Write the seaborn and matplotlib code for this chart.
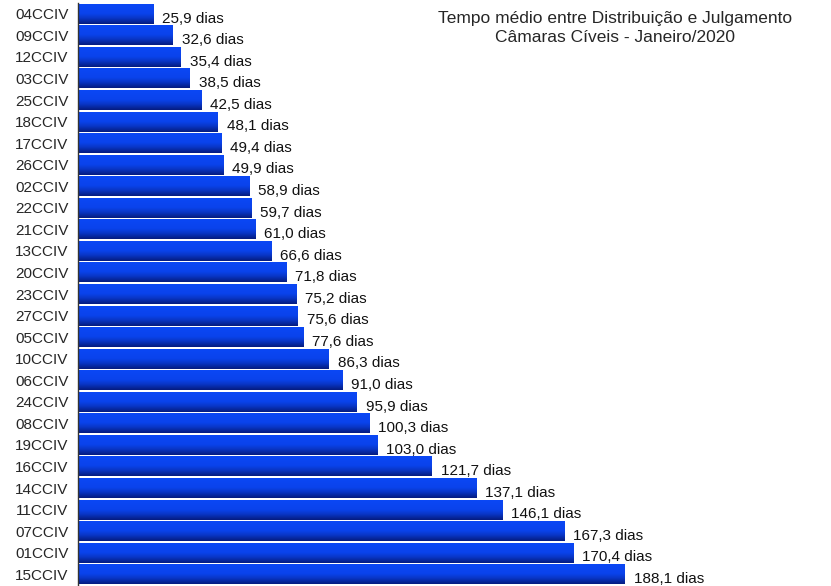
import numpy as np
import pandas as pd
import matplotlib
matplotlib.use("Agg")
import matplotlib.pyplot as plt
from matplotlib.colors import LinearSegmentedColormap
import seaborn as sns

camaras = ["04CCIV", "09CCIV", "12CCIV", "03CCIV", "25CCIV", "18CCIV", "17CCIV",
           "26CCIV", "02CCIV", "22CCIV", "21CCIV", "13CCIV", "20CCIV", "23CCIV",
           "27CCIV", "05CCIV", "10CCIV", "06CCIV", "24CCIV", "08CCIV", "19CCIV",
           "16CCIV", "14CCIV", "11CCIV", "07CCIV", "01CCIV", "15CCIV"]
dias = [25.9, 32.6, 35.4, 38.5, 42.5, 48.1, 49.4, 49.9, 58.9, 59.7, 61.0,
        66.6, 71.8, 75.2, 75.6, 77.6, 86.3, 91.0, 95.9, 100.3, 103.0, 121.7,
        137.1, 146.1, 167.3, 170.4, 188.1]

df = pd.DataFrame({"camara": camaras, "dias": dias})

sns.set_style("white")
plt.rcParams["font.family"] = ["Liberation Sans", "DejaVu Sans"]

fig = plt.figure(figsize=(8.31, 5.86), dpi=100)
ax = fig.add_axes([78 / 831, 1 / 586, 753 / 831, 582 / 586])

sns.barplot(data=df, x="dias", y="camara", color="#0b44f0", width=0.93,
            saturation=1, ax=ax)

# vertical gradient inside each bar (bright on top, dark at the bottom)
cmap = LinearSegmentedColormap.from_list(
    "azul", [(0, "#0b48f6"), (0.5, "#0a43ec"), (0.72, "#0936c6"),
             (1, "#051c80")])
grad = np.linspace(0, 1, 64).reshape(-1, 1)
for p in ax.patches:
    x0, y0 = p.get_x(), p.get_y()
    w, h = p.get_width(), p.get_height()
    im = ax.imshow(grad, extent=[x0, x0 + w, y0 + h, y0], aspect="auto",
                   cmap=cmap, zorder=p.get_zorder() + 0.1)
    im.set_clip_path(p)
    ax.text(x0 + w + 3, y0 + h * 0.74, f"{w:.1f} dias".replace(".", ","),
            va="center", ha="left", fontsize=11, color="#111111")

n = len(camaras)
ax.set_xlim(0, 259)
ax.set_ylim(n - 0.5, -0.5)
ax.set_xlabel("")
ax.set_ylabel("")
ax.set_xticks([])
ax.set_yticks(np.arange(n))
ax.set_yticklabels(camaras, fontsize=11)
ax.set_yticks(np.arange(n + 1) - 0.5, minor=True)
ax.tick_params(axis="y", which="major", length=0, pad=7)
ax.tick_params(axis="y", which="minor", length=5, width=1, color="#333333")
for s in ["top", "right", "bottom"]:
    ax.spines[s].set_visible(False)
ax.spines["left"].set_color("#333333")
ax.spines["left"].set_linewidth(1)

fig.text(615 / 831, 1 - 28 / 586,
         "Tempo médio entre Distribuição e Julgamento\nCâmaras Cíveis - Janeiro/2020",
         ha="center", va="center", fontsize=12.5, linespacing=1.3)

fig.savefig("out.png", dpi=100)
plt.close(fig)
